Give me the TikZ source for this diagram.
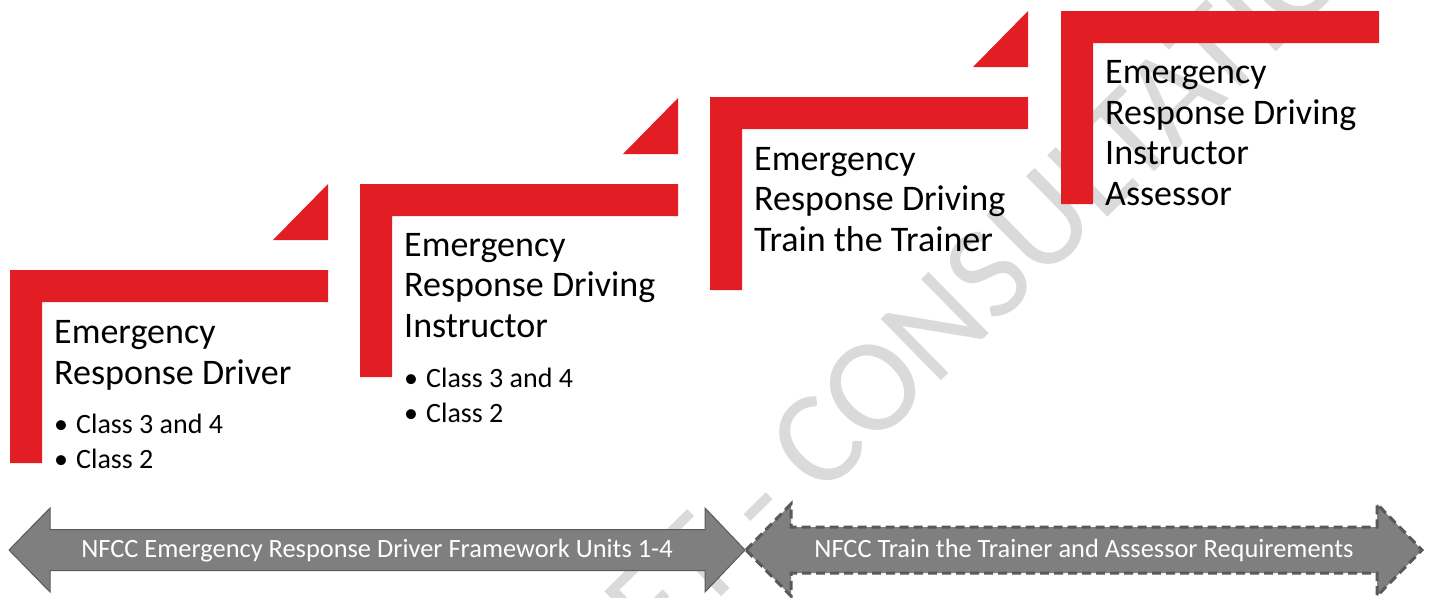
\documentclass[tikz,border=0pt]{standalone}
\usepackage{fontspec}
\setmainfont{Carlito}
\usepackage{tikz}

\definecolor{stepred}{HTML}{E21D24}
\definecolor{bandgrey}{HTML}{7F7F7F}
\definecolor{banddark}{HTML}{595959}
\definecolor{markgrey}{HTML}{DADADA}

\begin{document}
\begin{tikzpicture}[x=1pt,y=-1pt,
    riser/.style={fill=stepred,draw=none},
    heading/.style={anchor=base west,inner sep=0pt,align=left,
      font=\fontsize{36}{40.5}\selectfont},
    bullets/.style={anchor=base west,inner sep=0pt,align=left,
      font=\fontsize{28}{35}\selectfont},
    band/.style={fill=bandgrey,draw=banddark,line join=miter},
    bandtext/.style={anchor=base,inner sep=0pt,text=white,
      font=\fontsize{26.4}{30}\selectfont}]
  \useasboundingbox (0,0) rectangle (1432,597);
  \clip (0,0) rectangle (1432,597);

  % watermark behind everything
  \node[rotate=44.5,text=markgrey,font=\fontsize{134}{134}\selectfont] (mark)
    at (925,337) {DRAFT - CONSULTATION};

  % the four steps
  \foreach \sx/\sy in {10/270,360/184,710/97,1061/11}{
    \fill[riser] (\sx,\sy) -- ++(318,0) -- ++(0,32) -- ++(-286,0)
      -- ++(0,161) -- ++(-32,0) -- cycle;
  }
  \foreach \sx/\sy in {10/270,360/184,710/97}{
    \fill[riser] (\sx+263,\sy-30) -- (\sx+318,\sy-30) -- (\sx+318,\sy-86) -- cycle;
  }

  \node[heading] (driver) at (54,384) {Emergency\\Response Driver};
  \node[bullets] (driverclass) at (54,468)
    {\makebox[22pt][l]{\textbullet}Class 3 and 4\\\makebox[22pt][l]{\textbullet}Class 2};

  \node[heading] (instructor) at (404,337) {Emergency\\Response Driving\\Instructor};
  \node[bullets] (instructorclass) at (404,422)
    {\makebox[22pt][l]{\textbullet}Class 3 and 4\\\makebox[22pt][l]{\textbullet}Class 2};

  \node[heading] (trainer) at (754,251) {Emergency\\Response Driving\\Train the Trainer};

  \node[heading] (assessor) at (1105,205)
    {Emergency\\Response Driving\\Instructor\\Assessor};

  % bottom bands
  \draw[band,line width=1pt] (9,550) -- (50,508) -- (50,529.5) -- (705,529.5)
    -- (705,508) -- (745,550) -- (705,592) -- (705,570.5) -- (50,570.5)
    -- (50,592) -- cycle;
  \node[bandtext] (framework) at (377,557)
    {NFCC Emergency Response Driver Framework Units 1-4};

  \draw[band,line width=3pt,dash pattern=on 9pt off 5pt] (746,550) -- (791,504)
    -- (791,527) -- (1377,527) -- (1377,504) -- (1422,550) -- (1377,596)
    -- (1377,573) -- (791,573) -- (791,596) -- cycle;
  \node[bandtext] (requirements) at (1084,557)
    {NFCC Train the Trainer and Assessor Requirements};
\end{tikzpicture}
\end{document}
